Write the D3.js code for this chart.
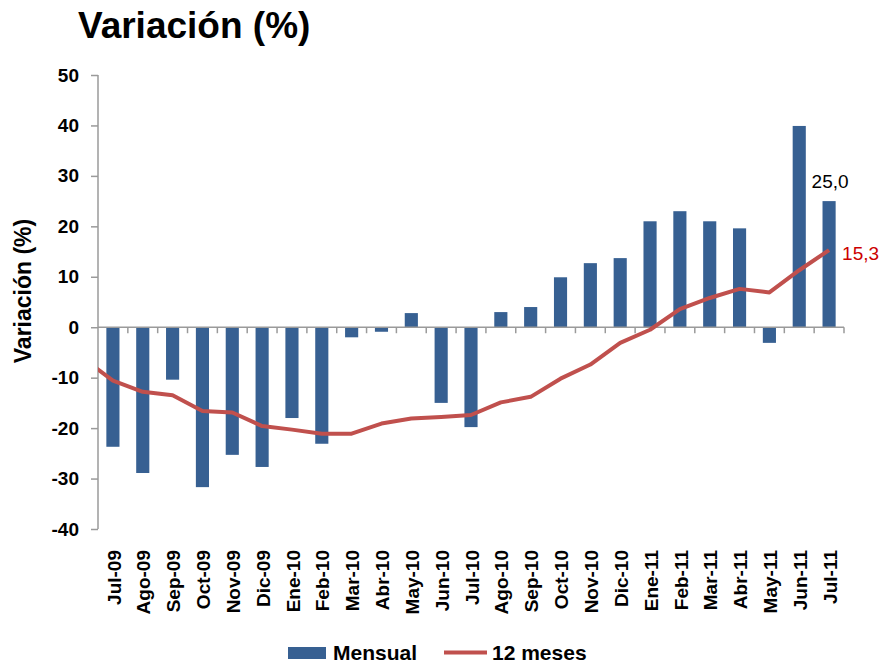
<!DOCTYPE html>
<html>
<head>
<meta charset="utf-8">
<script src="https://cdn.jsdelivr.net/npm/d3@7"></script>
<style>
  body { margin: 0; background: #fff; }
  svg text { font-family: "Liberation Sans", Arial, sans-serif; }
</style>
</head>
<body>
<svg id="chart" width="881" height="665"></svg>
<script>
// categories (months)
var months = ["Jul-09","Ago-09","Sep-09","Oct-09","Nov-09","Dic-09","Ene-10","Feb-10","Mar-10","Abr-10",
              "May-10","Jun-10","Jul-10","Ago-10","Sep-10","Oct-10","Nov-10","Dic-10","Ene-11","Feb-11",
              "Mar-11","Abr-11","May-11","Jun-11","Jul-11"];
// monthly variation (bars)
var mensual = [-23.7,-28.9,-10.4,-31.7,-25.3,-27.7,-18.0,-23.1,-2.0,-0.9,
               2.8,-15.0,-19.8,3.0,4.0,9.9,12.7,13.7,21.0,23.0,
               21.0,19.6,-3.1,39.9,25.0];
// 12 month variation (line)
var doceMeses = [-10.6,-12.8,-13.5,-16.6,-16.9,-19.6,-20.3,-21.1,-21.1,-19.1,
                 -18.1,-17.8,-17.4,-14.9,-13.8,-10.2,-7.4,-3.1,-0.5,3.6,
                 5.8,7.6,6.9,11.3,15.3];
// previous month value, line enters from the left edge of the plot
var doceMesesPrev = -6.2;
var yTicks = [-40,-30,-20,-10,0,10,20,30,40,50];

var W = 881, H = 665;
var margin = { left: 98, right: 37, top: 75, bottom: 136 };
var svg = d3.select("#chart");

var x = d3.scaleBand()
  .domain(months)
  .range([margin.left, W - margin.right])
  .paddingInner(0.56)
  .paddingOuter(0.28);
var y = d3.scaleLinear()
  .domain([-40, 50])
  .range([H - margin.bottom, margin.top]);

var axisColor = "#9a9a9a";
var barColor = "#376092";
var lineColor = "#c0504d";

// title
svg.append("text")
  .attr("x", 78).attr("y", 38)
  .attr("font-size", 37).attr("font-weight", "bold")
  .text("Variación (%)");

// y axis title
svg.append("text")
  .attr("transform", "translate(31,291) rotate(-90)")
  .attr("text-anchor", "middle")
  .attr("font-size", 23).attr("font-weight", "bold")
  .text("Variación (%)");

// bars
svg.append("g").selectAll("rect")
  .data(mensual)
  .join("rect")
  .attr("x", function(d, i) { return x(months[i]); })
  .attr("width", x.bandwidth())
  .attr("y", function(d) { return y(Math.max(0, d)); })
  .attr("height", function(d) { return Math.abs(y(d) - y(0)); })
  .attr("fill", barColor);

// y axis
var yAxis = svg.append("g")
  .attr("transform", "translate(" + margin.left + ",0)")
  .call(d3.axisLeft(y).tickValues(yTicks).tickSize(7).tickPadding(12)
    .tickFormat(function(d) { return String(d); }));
yAxis.select(".domain").attr("stroke", axisColor).attr("stroke-width", 1.5)
  .attr("d", "M0," + y(-40) + "V" + y(50));
yAxis.selectAll(".tick line").attr("stroke", axisColor).attr("stroke-width", 1.5);
yAxis.selectAll(".tick text")
  .attr("font-size", 19).attr("font-weight", "bold").attr("fill", "#000")
  .style("font-family", "'Liberation Sans', Arial, sans-serif");

// x axis on zero line
var step = x.step();
var xg = svg.append("g");
xg.append("line")
  .attr("x1", margin.left).attr("x2", W - margin.right)
  .attr("y1", y(0)).attr("y2", y(0))
  .attr("stroke", axisColor).attr("stroke-width", 1.5);
xg.selectAll("line.tk")
  .data(months)
  .join("line")
  .attr("class", "tk")
  .attr("x1", function(d) { return x(d) + x.bandwidth() / 2 + step / 2; })
  .attr("x2", function(d) { return x(d) + x.bandwidth() / 2 + step / 2; })
  .attr("y1", y(0)).attr("y2", y(0) + 6)
  .attr("stroke", axisColor).attr("stroke-width", 1.5);

// x labels (bottom of plot)
svg.append("g").selectAll("text")
  .data(months)
  .join("text")
  .attr("transform", function(d) {
    return "translate(" + (x(d) + x.bandwidth() / 2 + 1) + "," + 550 + ") rotate(-90)";
  })
  .attr("text-anchor", "end")
  .attr("dy", "0.35em")
  .attr("font-size", 19).attr("font-weight", "bold")
  .text(function(d) { return d; });

// line, clipped to plot area
svg.append("clipPath").attr("id", "plotclip")
  .append("rect")
  .attr("x", margin.left).attr("y", margin.top)
  .attr("width", W - margin.left - margin.right)
  .attr("height", H - margin.top - margin.bottom);

var pts = [{ px: x(months[0]) + x.bandwidth() / 2 - step, v: doceMesesPrev }].concat(
  doceMeses.map(function(v, i) { return { px: x(months[i]) + x.bandwidth() / 2, v: v }; }));
var lineFn = d3.line()
  .x(function(d) { return d.px; })
  .y(function(d) { return y(d.v); });
svg.append("path")
  .attr("d", lineFn(pts))
  .attr("clip-path", "url(#plotclip)")
  .attr("fill", "none")
  .attr("stroke", lineColor)
  .attr("stroke-width", 4)
  .attr("stroke-linejoin", "round");

// data labels for last month
var last = months.length - 1;
var lastX = x(months[last]) + x.bandwidth() / 2;
svg.append("text")
  .attr("x", lastX + 1).attr("y", y(mensual[last]) - 13)
  .attr("text-anchor", "middle")
  .attr("font-size", 19)
  .text(d3.format(".1f")(mensual[last]).replace(".", ","));
svg.append("text")
  .attr("x", lastX + 13).attr("y", y(doceMeses[last]) + 10)
  .attr("font-size", 19).attr("fill", "#cc0000")
  .text(d3.format(".1f")(doceMeses[last]).replace(".", ","));

// legend
var leg = svg.append("g");
leg.append("rect").attr("x", 288).attr("y", 647).attr("width", 38).attr("height", 12).attr("fill", barColor);
leg.append("text").attr("x", 333).attr("y", 660).attr("font-size", 21).attr("font-weight", "bold").text("Mensual");
leg.append("line").attr("x1", 444).attr("x2", 487).attr("y1", 652.5).attr("y2", 652.5)
  .attr("stroke", lineColor).attr("stroke-width", 4);
leg.append("text").attr("x", 492).attr("y", 660).attr("font-size", 21).attr("font-weight", "bold").text("12 meses");
</script>
</body>
</html>
